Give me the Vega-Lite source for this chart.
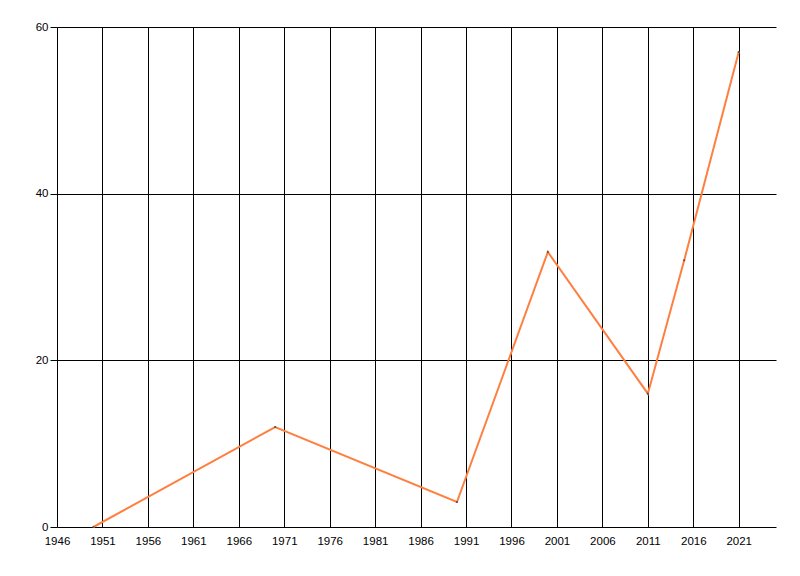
{
  "$schema": "https://vega.github.io/schema/vega-lite/v6.json",
  "autosize": "none",
  "width": 719,
  "height": 500,
  "padding": {"left": 57, "top": 27, "right": 24, "bottom": 49},
  "background": "white",
  "data": {
    "values": [
      {"year": 1950, "value": 0},
      {"year": 1970, "value": 12},
      {"year": 1990, "value": 3},
      {"year": 2000, "value": 33},
      {"year": 2011, "value": 16},
      {"year": 2015, "value": 32},
      {"year": 2021, "value": 57}
    ]
  },
  "encoding": {
    "x": {
      "field": "year",
      "type": "quantitative",
      "scale": {"domain": [1946, 2025.1], "nice": false, "zero": false},
      "axis": {
        "title": null,
        "values": [1946, 1951, 1956, 1961, 1966, 1971, 1976, 1981, 1986, 1991, 1996, 2001, 2006, 2011, 2016, 2021],
        "format": "d",
        "grid": true,
        "gridColor": "black",
        "gridOpacity": 1,
        "gridWidth": 1,
        "domain": false,
        "ticks": false,
        "labelPadding": 8,
        "labelFont": "Liberation Sans",
        "labelFontSize": 11.5,
        "labelColor": "black",
        "labelFlush": false
      }
    },
    "y": {
      "field": "value",
      "type": "quantitative",
      "scale": {"domain": [0, 60], "nice": false},
      "axis": {
        "title": null,
        "values": [0, 20, 40, 60],
        "grid": true,
        "gridColor": "black",
        "gridOpacity": 1,
        "gridWidth": 1,
        "domain": false,
        "ticks": true,
        "tickColor": "black",
        "tickSize": 7,
        "labelPadding": 2,
        "labelFont": "Liberation Sans",
        "labelFontSize": 11.5,
        "labelColor": "black",
        "labelFlush": false
      }
    }
  },
  "layer": [
    {
      "mark": {"type": "line", "color": "#ff7f3f", "strokeWidth": 2}
    },
    {
      "mark": {"type": "point", "filled": true, "color": "#555555", "size": 5, "opacity": 1}
    }
  ],
  "config": {
    "view": {"stroke": null}
  }
}
